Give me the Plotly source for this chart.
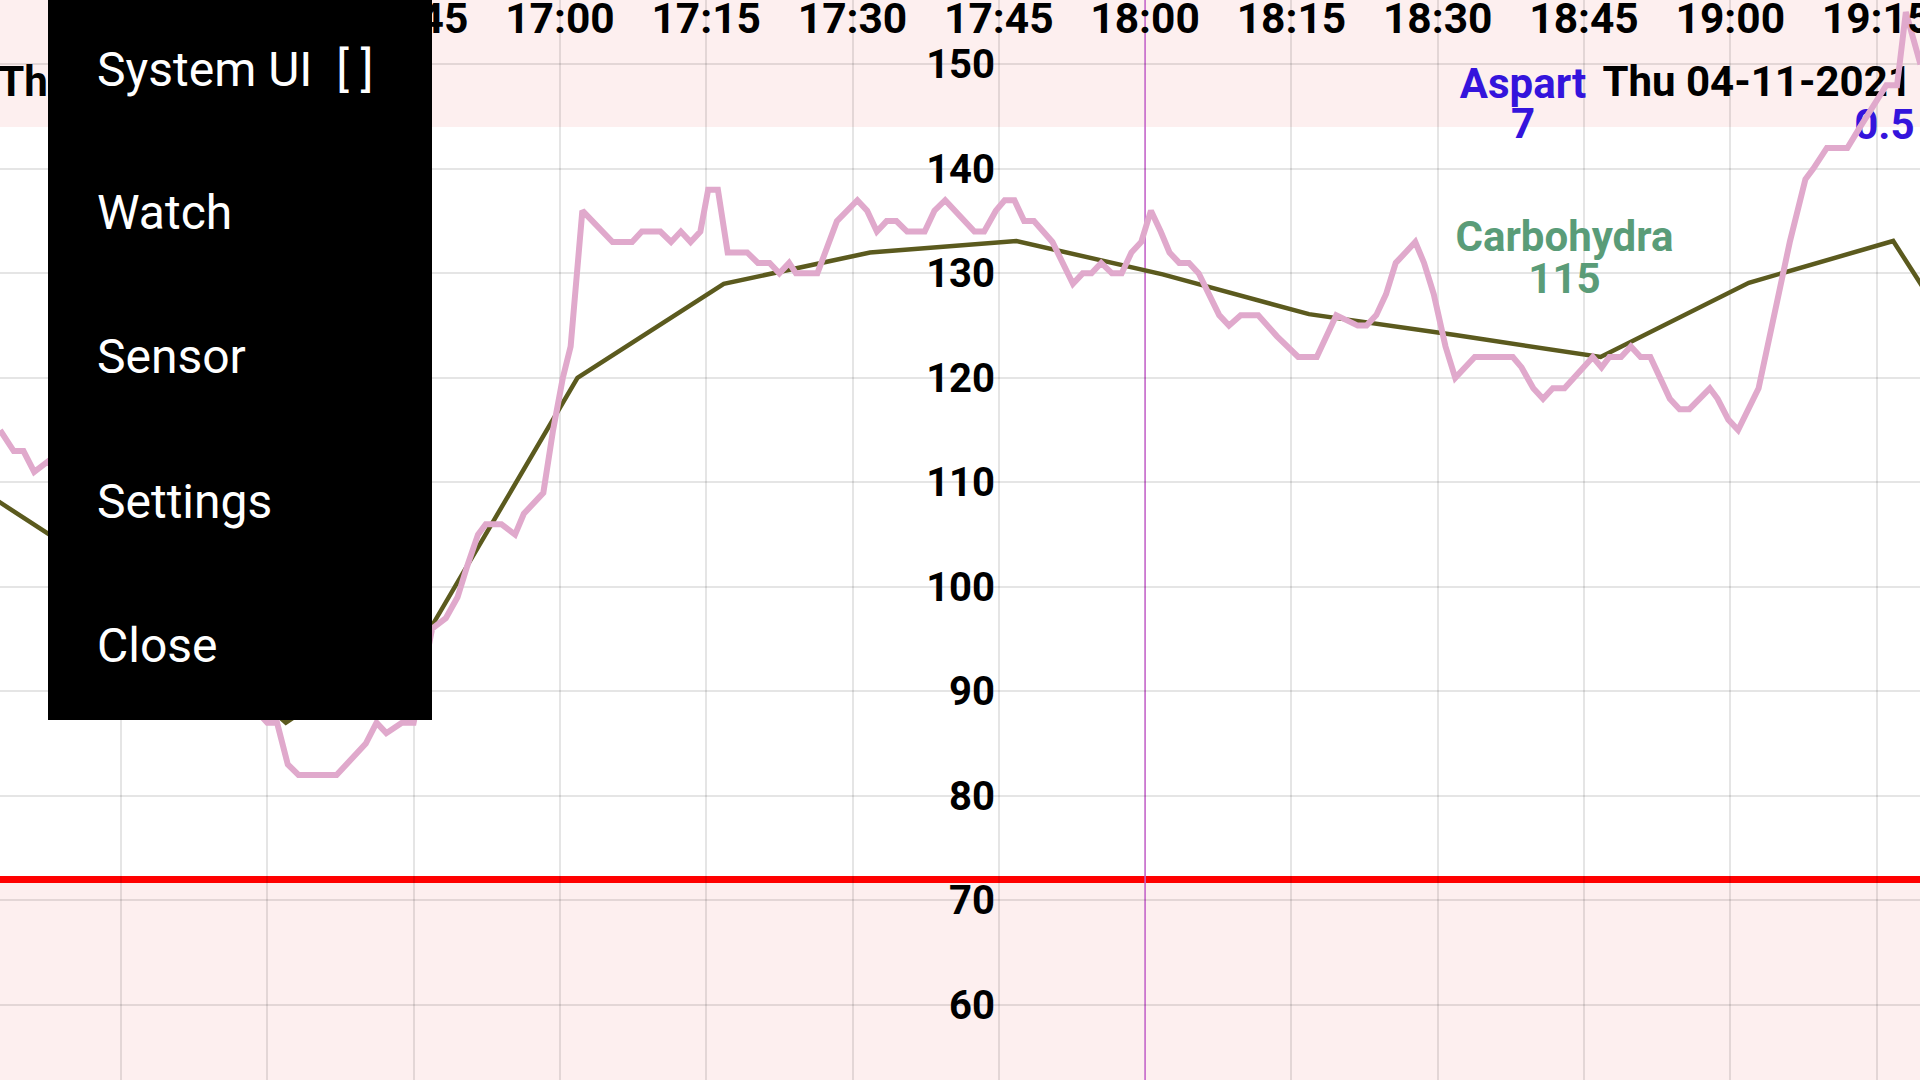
import pandas as pd
import plotly.graph_objects as go

FONT = "Roboto, sans-serif"
BASE = pd.Timestamp("2021-11-04 16:00")

# sensor readings (minutes after 16:00, mg/dL)
bg_minutes = [2.6, 4.0, 5.0, 6.1, 7.5, 15, 22, 30.0, 31.0, 32.1, 33.2, 37.1, 40.1, 41.2,
              42.2, 43.8, 45.0, 46.9, 48.3, 49.5, 50.5, 51.6, 52.4, 54.0, 55.4, 56.3,
              58.3, 59.3, 60.3, 61.1, 62.3, 65.4, 67.4, 68.4, 70.3, 71.4, 72.4, 73.4,
              74.4, 75.2, 76.2, 77.2, 79.2, 80.3, 81.5, 82.5, 83.5, 84.2, 86.4, 88.4,
              90.5, 91.5, 92.5, 93.5, 94.5, 95.6, 97.4, 98.4, 99.5, 100.5, 102.5, 103.5,
              104.7, 105.6, 106.6, 107.6, 108.6, 110.5, 111.5, 112.6, 113.6, 114.5,
              115.5, 116.6, 117.6, 118.6, 119.6, 120.6, 121.6, 122.5, 123.5, 124.5,
              125.5, 126.5, 127.6, 128.6, 129.8, 131.6, 133.5, 135.7, 137.6, 139.6,
              141.8, 142.7, 143.7, 144.7, 145.7, 146.7, 147.7, 148.6, 149.6, 150.8,
              151.8, 153.8, 157.7, 158.6, 159.8, 160.8, 161.8, 163.0, 164.9, 165.9,
              166.8, 167.6, 168.8, 169.8, 170.8, 171.8, 172.8, 173.8, 174.8, 175.8,
              177.9, 178.7, 179.8, 180.8, 182.9, 186.1, 187.7, 188.5, 189.9, 192.0,
              193.3, 194.7, 196.0, 197.1, 198.0, 199.5]
bg_values = [115, 113, 113, 111, 112, 104, 95, 87, 87, 83, 82, 82, 85, 87,
             86, 87, 87, 96, 97, 99, 102, 105, 106, 106, 105, 107,
             109, 115, 120, 123, 136, 133, 133, 134, 134, 133, 134, 133,
             134, 138, 138, 132, 132, 131, 131, 130, 131, 130, 130, 135,
             137, 136, 134, 135, 135, 134, 134, 136, 137, 136, 134, 134,
             136, 137, 137, 135, 135, 133, 131, 129, 130, 130,
             131, 130, 130, 132, 133, 136, 134, 132, 131, 131,
             130, 128, 126, 125, 126, 126, 124, 122, 122, 126,
             125, 125, 126, 128, 131, 132, 133, 131, 128, 123,
             120, 122, 122, 121, 119, 118, 119, 119, 121, 122,
             121, 122, 122, 123, 122, 122, 120, 118, 117, 117,
             119, 118, 116, 115, 119, 133, 139, 140, 142, 142,
             144, 146, 148, 148, 155, 150]

# smoothed trend
trend_minutes = [1.9, 16.9, 31.9, 46.9, 61.8, 76.8, 91.8, 106.8, 121.8, 136.8,
                 151.8, 166.7, 181.9, 196.7, 200.0]
trend_values = [108.5, 99.4, 87.0, 96.3, 120.0, 129.0, 132.0, 133.1, 129.9, 126.1,
                124.1, 122.0, 129.1, 133.1, 128.3]

# treatment / date labels
label_texts = ["Thu 04-11-2021", "Aspart", "7", "Thu 04-11-2021", "0.5", "Carbohydra", "115"]
label_minutes = [2.4, 158.75, 158.75, 166.9, 195.8, 163.0, 163.0]
label_values = [148.0, 147.8, 144.0, 148.0, 143.9, 133.1, 129.1]
label_colors = ["#000000", "#3414DC", "#3414DC", "#000000", "#3414DC", "#5A9C78", "#5A9C78"]
label_pos = ["middle right", "middle center", "middle center", "middle right",
             "middle center", "middle center", "middle center"]

high_mark = 144
low_mark = 72
now_minute = 120
y_ticks = [60, 70, 80, 90, 100, 110, 120, 130, 140, 150]
menu_items = ["System UI\u00a0\u00a0[ ]", "Watch", "Sensor", "Settings", "Close"]


def to_time(mins):
    return BASE + pd.to_timedelta(pd.Series(mins), unit="min")


fig = go.Figure()

fig.add_trace(go.Scatter(
    x=to_time(label_minutes), y=label_values, mode="text", text=label_texts,
    textposition=label_pos,
    textfont=dict(family=FONT, size=42, color=label_colors, weight="bold"),
    hoverinfo="skip", showlegend=False,
))
fig.add_trace(go.Scatter(
    x=to_time(trend_minutes), y=trend_values, mode="lines",
    line=dict(color="#5B5A1E", width=4.5), showlegend=False,
))
fig.add_trace(go.Scatter(
    x=to_time(bg_minutes), y=bg_values, mode="lines",
    line=dict(color="#E0A9CC", width=6), showlegend=False,
))

x_start = BASE + pd.Timedelta(minutes=2.593)
x_end = BASE + pd.Timedelta(minutes=199.45)

# high / low bands, low line, "now" marker
fig.add_shape(type="rect", xref="paper", x0=0, x1=1, y0=high_mark, y1=170,
              fillcolor="#FDEFEF", line_width=0, layer="below")
fig.add_shape(type="rect", xref="paper", x0=0, x1=1, y0=40, y1=low_mark,
              fillcolor="#FDEFEF", line_width=0, layer="below")
fig.add_shape(type="line", xref="paper", x0=0, x1=1, y0=low_mark, y1=low_mark,
              line=dict(color="#FF0000", width=7), layer="between")
now_x = BASE + pd.Timedelta(minutes=now_minute)
fig.add_shape(type="line", yref="paper", x0=now_x, x1=now_x, y0=0, y1=1,
              line=dict(color="#E070E6", width=1.5), layer="between")

# overflow menu
fig.add_shape(type="rect", xref="paper", yref="paper", x0=48 / 1920, x1=432 / 1920,
              y0=1 - 720 / 1080, y1=1, fillcolor="#000000", line_width=0, layer="above")
for i, item in enumerate(menu_items):
    fig.add_annotation(
        xref="paper", yref="paper", x=95 / 1920, y=1 - (69 + i * 144) / 1080,
        xanchor="left", yanchor="middle", text=item, showarrow=False,
        font=dict(family=FONT, size=48, color="white"),
    )

fig.update_layout(
    width=1920, height=1080,
    margin=dict(l=0, r=0, t=0, b=0, pad=0),
    plot_bgcolor="white", paper_bgcolor="white",
    showlegend=False,
    font=dict(family=FONT, color="black"),
)
fig.update_xaxes(
    range=[x_start, x_end], side="top", type="date", automargin=False,
    tick0=BASE, dtick=15 * 60 * 1000, tickformat="%H:%M",
    ticklabelposition="inside", ticklabeloverflow="allow", ticks="",
    tickfont=dict(family=FONT, size=42.5, color="black", weight="bold"),
    showgrid=True, gridcolor="rgba(0,0,0,0.10)", gridwidth=2,
    showline=False, zeroline=False,
)
fig.update_yaxes(
    range=[52.81, 156.16], anchor="free", position=995 / 1920, side="left",
    automargin=False,
    tickvals=y_ticks, ticks="", ticklabeloverflow="allow",
    tickfont=dict(family=FONT, size=40, color="black", weight="bold"),
    showgrid=True, gridcolor="rgba(0,0,0,0.10)", gridwidth=2,
    showline=False, zeroline=False,
)

page_css = (
    "document.documentElement.style.overflow = 'hidden';"
    "document.body.style.margin = '0';"
    "document.body.style.overflow = 'hidden';"
)
fig.write_html("out.html", config={"displayModeBar": False}, post_script=page_css)
